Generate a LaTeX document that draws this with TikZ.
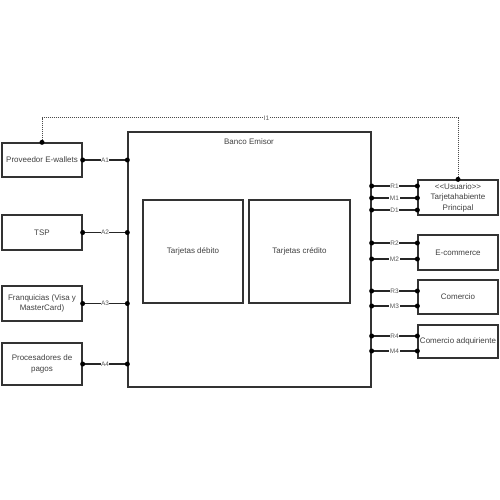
\documentclass[tikz,border=0pt]{standalone}
\usepackage{fontspec}
\setmainfont{Liberation Sans}

\begin{document}
\begin{tikzpicture}[x=1pt, y=-1pt,
    font=\fontsize{8}{10.5}\selectfont, text=black!75,
    caja/.style={draw=black!80, line width=1.3pt, inner sep=1pt, align=center},
    conn/.style={draw=black!85, line width=1.3pt},
    etiq/.style={fill=white, inner sep=0.5pt, text=black!65, font=\fontsize{6.5}{7}\selectfont}]
    \useasboundingbox (0,0) rectangle (500,500);
    % ---- Banco Emisor ----
    \node[caja, minimum width=243, minimum height=255] (banco) at (249.5,259.5) {};
    \node (titulo) at (249,142) {Banco Emisor};
    \node[caja, minimum width=100, minimum height=103] (debito) at (193,251.5) {Tarjetas débito};
    \node[caja, minimum width=101, minimum height=103] (credito) at (299.5,251.5) {Tarjetas crédito};
    % ---- actores externos ----
    \node[caja, minimum width=80, minimum height=34] (ewallet) at (42,160) {Proveedor E-wallets};
    \node[caja, minimum width=80, minimum height=35] (tsp) at (42,232.5) {TSP};
    \node[caja, minimum width=80, minimum height=35] (franq) at (42,303.5) {Franquicias (Visa y\\MasterCard)};
    \node[caja, minimum width=80, minimum height=42] (proc) at (42,364) {Procesadores de\\pagos};
    % ---- clientes ----
    \node[caja, minimum width=80, minimum height=35] (usuario) at (458,197.5) {<\kern0pt<Usuario>\kern0pt>\\Tarjetahabiente\\Principal};
    \node[caja, minimum width=80, minimum height=35] (ecom) at (458,252.5) {E-commerce};
    \node[caja, minimum width=80, minimum height=34] (comercio) at (458,297) {Comercio};
    \node[caja, minimum width=80, minimum height=33] (adq) at (458,341.5) {Comercio adquiriente};
    % ---- interfaces A ----
    \foreach \n/\l in {ewallet/A1, tsp/A2, franq/A3, proc/A4} {
        \draw[conn] (\n.east) -- (\n.east -| banco.west) node[midway, etiq] {\l};
        \fill (\n.east) circle (2.5pt);
        \fill (\n.east -| banco.west) circle (2.5pt);
    }
    % ---- interfaces R / M / D ----
    \foreach \l/\n/\y in {R1/usuario/186, M1/usuario/198, D1/usuario/210,
                          R2/ecom/243, M2/ecom/259, R3/comercio/291, M3/comercio/306,
                          R4/adq/336, M4/adq/351} {
        \draw[conn] (banco.east |- 0,\y) -- (\n.west |- 0,\y) node[midway, etiq] {\l};
        \fill (banco.east |- 0,\y) circle (2.5pt);
        \fill (\n.west |- 0,\y) circle (2.5pt);
    }
    % ---- I1 ----
    \coordinate (i1izq) at (ewallet.north |- 0,118);
    \coordinate (i1der) at (usuario.north |- 0,118);
    \draw[conn, draw=black!70, line width=1pt, densely dotted] (ewallet.north) -- (i1izq) -- (i1der)
        node[pos=0.54, etiq] {I1} -- (usuario.north);
    \fill (ewallet.north) circle (2.5pt);
    \fill (usuario.north) circle (2.5pt);
\end{tikzpicture}
\end{document}
